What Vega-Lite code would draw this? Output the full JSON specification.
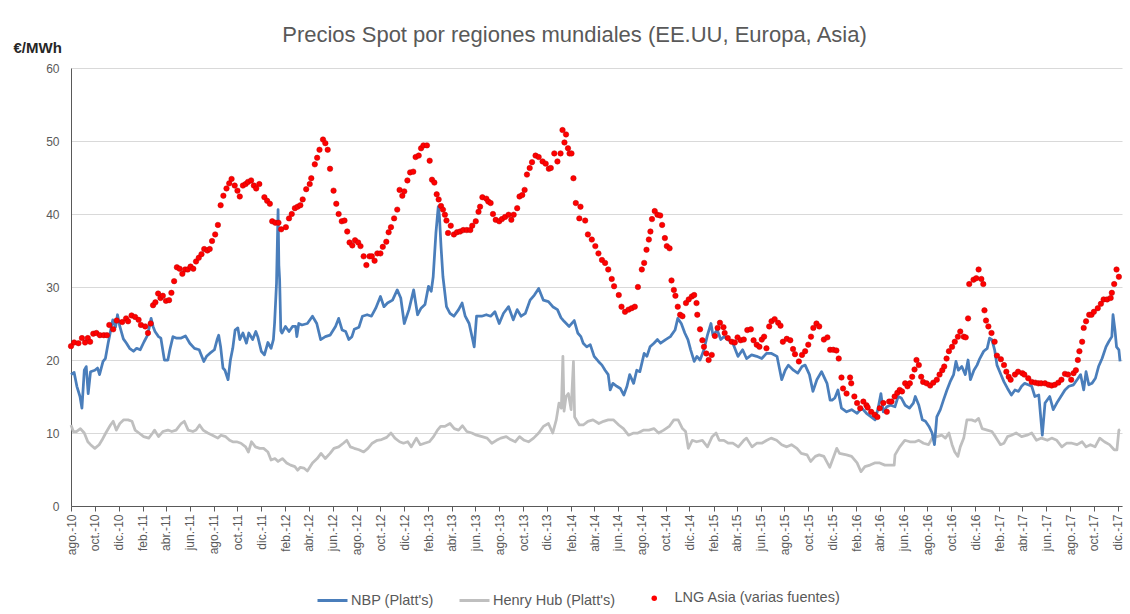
{
"$schema":"https://vega.github.io/schema/vega-lite/v6.json",
"width":1051,"height":438,
"autosize":"none",
"padding":{"left":71,"top":68,"right":8,"bottom":108},
"background":"white",
"config":{"font":"Liberation Sans","view":{"stroke":null}},
"title":{"text":"Precios Spot por regiones mundiales (EE.UU, Europa, Asia)","fontSize":22,"fontWeight":"normal","color":"#595959","font":"Liberation Sans","frame":"group","anchor":"middle","offset":20,"dx":-22,"dy":27},
"datasets":{
"nbp":[{"d":"2010-08-01","v":18.0},{"d":"2010-08-09","v":18.3},{"d":"2010-08-16","v":16.4},{"d":"2010-08-24","v":15.0},{"d":"2010-08-29","v":13.4},{"d":"2010-09-04","v":18.6},{"d":"2010-09-09","v":19.1},{"d":"2010-09-14","v":15.4},{"d":"2010-09-20","v":18.4},{"d":"2010-10-01","v":18.6},{"d":"2010-10-08","v":18.9},{"d":"2010-10-13","v":18.0},{"d":"2010-10-22","v":19.8},{"d":"2010-10-28","v":20.2},{"d":"2010-11-04","v":22.3},{"d":"2010-11-10","v":23.9},{"d":"2010-11-16","v":25.5},{"d":"2010-11-23","v":24.5},{"d":"2010-11-28","v":26.2},{"d":"2010-12-04","v":24.6},{"d":"2010-12-13","v":22.9},{"d":"2010-12-21","v":22.3},{"d":"2010-12-29","v":21.6},{"d":"2011-01-08","v":21.2},{"d":"2011-01-16","v":21.6},{"d":"2011-01-25","v":21.4},{"d":"2011-02-04","v":22.5},{"d":"2011-02-13","v":23.4},{"d":"2011-02-22","v":25.7},{"d":"2011-02-27","v":24.6},{"d":"2011-03-04","v":23.9},{"d":"2011-03-13","v":23.2},{"d":"2011-03-19","v":23.0},{"d":"2011-03-28","v":20.0},{"d":"2011-04-06","v":20.0},{"d":"2011-04-11","v":21.4},{"d":"2011-04-19","v":23.2},{"d":"2011-04-27","v":23.0},{"d":"2011-05-10","v":23.0},{"d":"2011-05-21","v":23.3},{"d":"2011-06-01","v":22.3},{"d":"2011-06-13","v":21.6},{"d":"2011-06-25","v":21.4},{"d":"2011-07-07","v":19.8},{"d":"2011-07-14","v":20.5},{"d":"2011-07-22","v":20.9},{"d":"2011-08-03","v":21.4},{"d":"2011-08-10","v":22.8},{"d":"2011-08-14","v":23.4},{"d":"2011-08-19","v":21.8},{"d":"2011-08-25","v":18.9},{"d":"2011-08-30","v":18.6},{"d":"2011-09-07","v":17.3},{"d":"2011-09-13","v":20.0},{"d":"2011-09-19","v":21.6},{"d":"2011-09-25","v":24.1},{"d":"2011-10-02","v":24.4},{"d":"2011-10-07","v":22.8},{"d":"2011-10-15","v":23.7},{"d":"2011-10-24","v":22.3},{"d":"2011-10-30","v":23.7},{"d":"2011-11-09","v":22.8},{"d":"2011-11-17","v":23.9},{"d":"2011-11-22","v":23.2},{"d":"2011-12-01","v":21.2},{"d":"2011-12-09","v":20.7},{"d":"2011-12-18","v":22.4},{"d":"2011-12-26","v":21.6},{"d":"2012-01-01","v":22.8},{"d":"2012-01-04","v":25.0},{"d":"2012-01-09","v":30.5},{"d":"2012-01-13","v":40.6},{"d":"2012-01-15","v":33.0},{"d":"2012-01-17","v":31.0},{"d":"2012-01-20","v":24.0},{"d":"2012-01-23","v":23.7},{"d":"2012-02-01","v":24.6},{"d":"2012-02-10","v":23.9},{"d":"2012-02-19","v":24.6},{"d":"2012-02-27","v":24.6},{"d":"2012-03-01","v":23.2},{"d":"2012-03-06","v":25.0},{"d":"2012-03-14","v":24.8},{"d":"2012-03-28","v":25.0},{"d":"2012-04-10","v":26.0},{"d":"2012-04-21","v":25.0},{"d":"2012-05-01","v":22.8},{"d":"2012-05-13","v":23.2},{"d":"2012-05-25","v":23.4},{"d":"2012-06-08","v":24.6},{"d":"2012-06-16","v":25.7},{"d":"2012-06-25","v":24.1},{"d":"2012-07-04","v":23.9},{"d":"2012-07-12","v":22.8},{"d":"2012-07-20","v":23.2},{"d":"2012-07-26","v":24.2},{"d":"2012-08-07","v":24.5},{"d":"2012-08-16","v":26.0},{"d":"2012-08-28","v":26.2},{"d":"2012-09-08","v":26.0},{"d":"2012-09-19","v":27.1},{"d":"2012-10-01","v":28.7},{"d":"2012-10-10","v":27.3},{"d":"2012-10-19","v":27.8},{"d":"2012-11-01","v":28.2},{"d":"2012-11-13","v":29.6},{"d":"2012-11-22","v":28.5},{"d":"2012-12-01","v":25.0},{"d":"2012-12-13","v":26.9},{"d":"2012-12-25","v":29.6},{"d":"2013-01-04","v":26.2},{"d":"2013-01-13","v":27.1},{"d":"2013-01-23","v":27.6},{"d":"2013-02-01","v":30.1},{"d":"2013-02-08","v":29.4},{"d":"2013-02-13","v":31.4},{"d":"2013-02-20","v":37.4},{"d":"2013-02-26","v":41.0},{"d":"2013-03-01","v":39.7},{"d":"2013-03-05","v":35.6},{"d":"2013-03-10","v":31.4},{"d":"2013-03-19","v":27.3},{"d":"2013-03-28","v":26.4},{"d":"2013-04-07","v":26.0},{"d":"2013-04-19","v":26.9},{"d":"2013-04-28","v":27.8},{"d":"2013-05-06","v":26.0},{"d":"2013-05-16","v":25.0},{"d":"2013-05-25","v":22.8},{"d":"2013-05-29","v":21.8},{"d":"2013-06-04","v":26.0},{"d":"2013-06-17","v":26.0},{"d":"2013-06-29","v":26.2},{"d":"2013-07-10","v":26.0},{"d":"2013-07-21","v":26.6},{"d":"2013-08-01","v":25.0},{"d":"2013-08-12","v":26.4},{"d":"2013-08-25","v":27.3},{"d":"2013-09-06","v":25.5},{"d":"2013-09-16","v":26.9},{"d":"2013-09-26","v":26.0},{"d":"2013-10-07","v":26.4},{"d":"2013-10-19","v":28.2},{"d":"2013-10-30","v":28.9},{"d":"2013-11-10","v":29.8},{"d":"2013-11-22","v":28.2},{"d":"2013-12-05","v":28.0},{"d":"2013-12-16","v":27.3},{"d":"2013-12-28","v":26.9},{"d":"2014-01-06","v":25.8},{"d":"2014-01-14","v":25.3},{"d":"2014-01-27","v":24.6},{"d":"2014-02-09","v":25.4},{"d":"2014-02-18","v":23.7},{"d":"2014-02-26","v":23.2},{"d":"2014-03-04","v":22.3},{"d":"2014-03-13","v":21.8},{"d":"2014-03-22","v":22.1},{"d":"2014-04-01","v":20.5},{"d":"2014-04-12","v":19.8},{"d":"2014-04-21","v":19.3},{"d":"2014-04-29","v":18.6},{"d":"2014-05-07","v":18.0},{"d":"2014-05-12","v":15.9},{"d":"2014-05-19","v":16.8},{"d":"2014-05-29","v":16.4},{"d":"2014-06-07","v":16.1},{"d":"2014-06-16","v":15.2},{"d":"2014-06-24","v":16.4},{"d":"2014-07-01","v":18.0},{"d":"2014-07-11","v":16.8},{"d":"2014-07-19","v":18.6},{"d":"2014-07-27","v":18.4},{"d":"2014-08-07","v":20.9},{"d":"2014-08-14","v":20.5},{"d":"2014-08-22","v":21.8},{"d":"2014-09-01","v":22.3},{"d":"2014-09-10","v":22.8},{"d":"2014-09-18","v":22.3},{"d":"2014-10-01","v":22.8},{"d":"2014-10-13","v":23.2},{"d":"2014-10-25","v":24.1},{"d":"2014-11-01","v":25.7},{"d":"2014-11-10","v":25.0},{"d":"2014-11-19","v":23.7},{"d":"2014-11-27","v":22.8},{"d":"2014-12-04","v":21.4},{"d":"2014-12-13","v":19.8},{"d":"2014-12-20","v":20.5},{"d":"2014-12-28","v":20.0},{"d":"2015-01-07","v":21.4},{"d":"2015-01-16","v":23.4},{"d":"2015-01-25","v":25.0},{"d":"2015-01-30","v":23.4},{"d":"2015-02-10","v":24.1},{"d":"2015-02-19","v":22.8},{"d":"2015-02-27","v":23.2},{"d":"2015-03-10","v":22.8},{"d":"2015-03-22","v":22.3},{"d":"2015-04-04","v":20.5},{"d":"2015-04-16","v":21.4},{"d":"2015-04-26","v":20.2},{"d":"2015-05-09","v":20.7},{"d":"2015-05-22","v":20.5},{"d":"2015-06-04","v":20.2},{"d":"2015-06-16","v":20.9},{"d":"2015-06-29","v":20.9},{"d":"2015-07-13","v":20.5},{"d":"2015-07-25","v":17.3},{"d":"2015-08-03","v":18.6},{"d":"2015-08-11","v":19.3},{"d":"2015-08-24","v":18.6},{"d":"2015-09-04","v":18.2},{"d":"2015-09-15","v":19.1},{"d":"2015-09-23","v":19.3},{"d":"2015-10-04","v":18.0},{"d":"2015-10-13","v":15.7},{"d":"2015-10-23","v":17.3},{"d":"2015-11-04","v":18.4},{"d":"2015-11-18","v":16.8},{"d":"2015-11-26","v":14.5},{"d":"2015-12-01","v":14.5},{"d":"2015-12-08","v":14.8},{"d":"2015-12-16","v":15.9},{"d":"2015-12-25","v":13.4},{"d":"2016-01-07","v":12.9},{"d":"2016-01-20","v":13.2},{"d":"2016-02-03","v":12.7},{"d":"2016-02-15","v":13.4},{"d":"2016-02-27","v":12.7},{"d":"2016-03-10","v":12.2},{"d":"2016-03-20","v":11.8},{"d":"2016-03-27","v":13.2},{"d":"2016-04-04","v":15.4},{"d":"2016-04-10","v":12.9},{"d":"2016-04-19","v":13.6},{"d":"2016-04-29","v":13.8},{"d":"2016-05-10","v":13.6},{"d":"2016-05-18","v":15.0},{"d":"2016-05-26","v":14.8},{"d":"2016-06-05","v":13.8},{"d":"2016-06-16","v":13.4},{"d":"2016-06-26","v":14.1},{"d":"2016-07-01","v":15.0},{"d":"2016-07-10","v":13.8},{"d":"2016-07-19","v":11.8},{"d":"2016-07-27","v":11.6},{"d":"2016-08-05","v":10.9},{"d":"2016-08-13","v":10.0},{"d":"2016-08-19","v":8.4},{"d":"2016-08-25","v":12.2},{"d":"2016-09-03","v":13.2},{"d":"2016-09-11","v":14.5},{"d":"2016-09-20","v":15.9},{"d":"2016-09-28","v":17.0},{"d":"2016-10-07","v":18.0},{"d":"2016-10-13","v":19.8},{"d":"2016-10-19","v":18.6},{"d":"2016-10-28","v":19.1},{"d":"2016-11-06","v":18.0},{"d":"2016-11-13","v":20.0},{"d":"2016-11-19","v":17.3},{"d":"2016-11-28","v":18.6},{"d":"2016-12-06","v":19.3},{"d":"2016-12-13","v":20.2},{"d":"2016-12-23","v":21.2},{"d":"2017-01-01","v":21.6},{"d":"2017-01-07","v":23.0},{"d":"2017-01-13","v":22.8},{"d":"2017-01-20","v":21.4},{"d":"2017-01-26","v":19.3},{"d":"2017-02-05","v":18.0},{"d":"2017-02-13","v":17.0},{"d":"2017-02-22","v":16.1},{"d":"2017-03-04","v":15.2},{"d":"2017-03-13","v":15.9},{"d":"2017-03-22","v":15.7},{"d":"2017-03-30","v":16.4},{"d":"2017-04-07","v":16.8},{"d":"2017-04-16","v":16.6},{"d":"2017-04-25","v":16.4},{"d":"2017-05-03","v":15.0},{"d":"2017-05-13","v":15.2},{"d":"2017-05-22","v":9.7},{"d":"2017-05-29","v":14.1},{"d":"2017-06-10","v":15.0},{"d":"2017-06-19","v":13.2},{"d":"2017-06-28","v":14.1},{"d":"2017-07-11","v":15.2},{"d":"2017-07-19","v":15.9},{"d":"2017-07-29","v":16.4},{"d":"2017-08-10","v":16.6},{"d":"2017-08-19","v":17.3},{"d":"2017-08-28","v":18.0},{"d":"2017-09-05","v":15.9},{"d":"2017-09-11","v":18.4},{"d":"2017-09-18","v":16.6},{"d":"2017-09-26","v":16.8},{"d":"2017-10-05","v":17.5},{"d":"2017-10-13","v":19.1},{"d":"2017-10-22","v":20.2},{"d":"2017-11-01","v":21.8},{"d":"2017-11-08","v":22.5},{"d":"2017-11-16","v":23.2},{"d":"2017-11-19","v":26.2},{"d":"2017-11-24","v":24.1},{"d":"2017-11-28","v":21.8},{"d":"2017-12-04","v":21.4},{"d":"2017-12-07","v":19.8}],
"hh":[{"d":"2010-08-01","v":11.1},{"d":"2010-08-07","v":10.2},{"d":"2010-08-15","v":10.2},{"d":"2010-08-25","v":10.6},{"d":"2010-09-04","v":10.0},{"d":"2010-09-13","v":8.8},{"d":"2010-09-20","v":8.4},{"d":"2010-10-01","v":7.9},{"d":"2010-10-12","v":8.4},{"d":"2010-10-19","v":9.0},{"d":"2010-10-29","v":10.0},{"d":"2010-11-10","v":11.1},{"d":"2010-11-17","v":11.6},{"d":"2010-11-25","v":10.4},{"d":"2010-12-04","v":11.3},{"d":"2010-12-14","v":11.8},{"d":"2010-12-25","v":11.8},{"d":"2011-01-04","v":11.6},{"d":"2011-01-12","v":10.4},{"d":"2011-01-22","v":10.0},{"d":"2011-02-03","v":9.5},{"d":"2011-02-16","v":9.3},{"d":"2011-02-26","v":10.0},{"d":"2011-03-03","v":10.4},{"d":"2011-03-13","v":9.5},{"d":"2011-03-24","v":10.2},{"d":"2011-04-06","v":10.4},{"d":"2011-04-16","v":10.2},{"d":"2011-04-27","v":10.4},{"d":"2011-05-10","v":11.3},{"d":"2011-05-18","v":11.6},{"d":"2011-05-28","v":10.4},{"d":"2011-06-09","v":10.2},{"d":"2011-06-17","v":10.4},{"d":"2011-06-26","v":11.1},{"d":"2011-07-05","v":10.4},{"d":"2011-07-17","v":10.0},{"d":"2011-07-29","v":9.7},{"d":"2011-08-12","v":9.3},{"d":"2011-08-20","v":9.7},{"d":"2011-09-01","v":9.5},{"d":"2011-09-11","v":9.0},{"d":"2011-09-19","v":8.8},{"d":"2011-09-29","v":8.8},{"d":"2011-10-10","v":8.6},{"d":"2011-10-22","v":8.1},{"d":"2011-10-29","v":7.4},{"d":"2011-11-06","v":8.8},{"d":"2011-11-16","v":8.1},{"d":"2011-11-27","v":7.9},{"d":"2011-12-07","v":7.9},{"d":"2011-12-18","v":7.4},{"d":"2011-12-26","v":6.3},{"d":"2012-01-05","v":6.5},{"d":"2012-01-13","v":6.1},{"d":"2012-01-24","v":6.5},{"d":"2012-02-04","v":5.9},{"d":"2012-02-14","v":5.6},{"d":"2012-02-25","v":5.4},{"d":"2012-03-03","v":4.9},{"d":"2012-03-10","v":5.3},{"d":"2012-03-19","v":5.2},{"d":"2012-03-28","v":4.8},{"d":"2012-04-10","v":5.9},{"d":"2012-04-22","v":6.5},{"d":"2012-05-02","v":7.2},{"d":"2012-05-13","v":6.5},{"d":"2012-05-25","v":7.2},{"d":"2012-06-04","v":7.9},{"d":"2012-06-16","v":8.1},{"d":"2012-06-28","v":8.6},{"d":"2012-07-07","v":9.0},{"d":"2012-07-16","v":8.1},{"d":"2012-07-26","v":7.9},{"d":"2012-08-07","v":7.7},{"d":"2012-08-19","v":7.4},{"d":"2012-08-30","v":7.9},{"d":"2012-09-10","v":8.6},{"d":"2012-09-23","v":9.0},{"d":"2012-10-04","v":9.1},{"d":"2012-10-17","v":9.4},{"d":"2012-10-28","v":10.0},{"d":"2012-11-07","v":9.3},{"d":"2012-11-19","v":8.8},{"d":"2012-11-29","v":8.6},{"d":"2012-12-10","v":8.8},{"d":"2012-12-19","v":8.1},{"d":"2013-01-01","v":9.3},{"d":"2013-01-11","v":8.4},{"d":"2013-01-22","v":8.6},{"d":"2013-02-03","v":8.8},{"d":"2013-02-14","v":9.5},{"d":"2013-02-24","v":10.4},{"d":"2013-03-04","v":10.9},{"d":"2013-03-15","v":10.9},{"d":"2013-03-28","v":11.3},{"d":"2013-04-08","v":10.6},{"d":"2013-04-19","v":10.4},{"d":"2013-04-29","v":11.0},{"d":"2013-05-10","v":10.2},{"d":"2013-05-23","v":10.0},{"d":"2013-06-04","v":9.7},{"d":"2013-06-18","v":9.5},{"d":"2013-07-01","v":9.3},{"d":"2013-07-13","v":8.6},{"d":"2013-07-25","v":9.0},{"d":"2013-08-05","v":9.3},{"d":"2013-08-19","v":9.5},{"d":"2013-08-30","v":9.1},{"d":"2013-09-11","v":8.8},{"d":"2013-09-22","v":9.5},{"d":"2013-10-04","v":9.0},{"d":"2013-10-15","v":8.8},{"d":"2013-10-28","v":9.3},{"d":"2013-11-10","v":10.0},{"d":"2013-11-22","v":10.9},{"d":"2013-12-05","v":11.3},{"d":"2013-12-16","v":10.0},{"d":"2013-12-25","v":11.8},{"d":"2014-01-01","v":14.1},{"d":"2014-01-07","v":13.4},{"d":"2014-01-11","v":20.5},{"d":"2014-01-14","v":13.0},{"d":"2014-01-19","v":15.0},{"d":"2014-01-25","v":15.4},{"d":"2014-02-01","v":13.2},{"d":"2014-02-07","v":19.8},{"d":"2014-02-10","v":12.2},{"d":"2014-02-22","v":11.1},{"d":"2014-03-04","v":11.1},{"d":"2014-03-16","v":11.6},{"d":"2014-03-29","v":11.8},{"d":"2014-04-13","v":11.3},{"d":"2014-04-25","v":11.6},{"d":"2014-05-07","v":11.8},{"d":"2014-05-20","v":11.8},{"d":"2014-06-03","v":11.1},{"d":"2014-06-15","v":10.6},{"d":"2014-06-28","v":9.7},{"d":"2014-07-11","v":10.0},{"d":"2014-07-22","v":10.0},{"d":"2014-08-06","v":10.4},{"d":"2014-08-19","v":10.4},{"d":"2014-09-01","v":10.6},{"d":"2014-09-13","v":10.0},{"d":"2014-09-26","v":10.4},{"d":"2014-10-10","v":10.9},{"d":"2014-10-22","v":11.8},{"d":"2014-11-02","v":11.8},{"d":"2014-11-13","v":10.6},{"d":"2014-11-21","v":10.2},{"d":"2014-11-28","v":7.9},{"d":"2014-12-08","v":9.0},{"d":"2014-12-19","v":8.8},{"d":"2015-01-03","v":9.0},{"d":"2015-01-16","v":8.1},{"d":"2015-01-28","v":9.5},{"d":"2015-02-07","v":10.0},{"d":"2015-02-15","v":9.0},{"d":"2015-02-27","v":9.0},{"d":"2015-03-10","v":8.6},{"d":"2015-03-22","v":8.6},{"d":"2015-04-05","v":8.1},{"d":"2015-04-19","v":9.0},{"d":"2015-04-26","v":9.3},{"d":"2015-05-10","v":8.1},{"d":"2015-05-22","v":8.6},{"d":"2015-06-04","v":8.6},{"d":"2015-06-17","v":9.0},{"d":"2015-06-28","v":9.3},{"d":"2015-07-12","v":9.0},{"d":"2015-07-25","v":8.4},{"d":"2015-08-07","v":8.1},{"d":"2015-08-19","v":8.4},{"d":"2015-09-02","v":7.9},{"d":"2015-09-13","v":7.2},{"d":"2015-09-28","v":7.0},{"d":"2015-10-07","v":6.1},{"d":"2015-10-19","v":6.8},{"d":"2015-10-29","v":7.0},{"d":"2015-11-10","v":6.8},{"d":"2015-11-25","v":5.3},{"d":"2015-12-13","v":7.9},{"d":"2015-12-20","v":7.2},{"d":"2016-01-07","v":7.0},{"d":"2016-01-20","v":6.8},{"d":"2016-02-03","v":5.9},{"d":"2016-02-13","v":4.7},{"d":"2016-02-23","v":5.4},{"d":"2016-03-07","v":5.6},{"d":"2016-03-19","v":5.9},{"d":"2016-04-01","v":5.9},{"d":"2016-04-14","v":5.6},{"d":"2016-04-28","v":5.6},{"d":"2016-05-08","v":5.6},{"d":"2016-05-10","v":7.0},{"d":"2016-05-22","v":8.1},{"d":"2016-06-04","v":9.0},{"d":"2016-06-17","v":8.8},{"d":"2016-07-01","v":8.8},{"d":"2016-07-10","v":9.0},{"d":"2016-07-22","v":8.6},{"d":"2016-08-04","v":8.4},{"d":"2016-08-13","v":9.3},{"d":"2016-08-25","v":9.5},{"d":"2016-09-07","v":9.7},{"d":"2016-09-16","v":9.3},{"d":"2016-09-25","v":10.0},{"d":"2016-10-03","v":8.4},{"d":"2016-10-10","v":7.4},{"d":"2016-10-18","v":6.8},{"d":"2016-10-24","v":8.1},{"d":"2016-11-02","v":9.3},{"d":"2016-11-10","v":11.8},{"d":"2016-11-22","v":11.8},{"d":"2016-12-01","v":11.6},{"d":"2016-12-10","v":12.0},{"d":"2016-12-19","v":10.6},{"d":"2017-01-01","v":10.4},{"d":"2017-01-13","v":10.2},{"d":"2017-01-22","v":9.5},{"d":"2017-02-04","v":8.4},{"d":"2017-02-13","v":8.6},{"d":"2017-02-22","v":9.5},{"d":"2017-03-04","v":9.7},{"d":"2017-03-16","v":10.0},{"d":"2017-03-30","v":9.5},{"d":"2017-04-13","v":9.7},{"d":"2017-04-25","v":10.0},{"d":"2017-05-07","v":9.0},{"d":"2017-05-20","v":9.3},{"d":"2017-06-04","v":9.0},{"d":"2017-06-15","v":9.3},{"d":"2017-06-28","v":9.0},{"d":"2017-07-11","v":8.1},{"d":"2017-07-23","v":8.6},{"d":"2017-08-06","v":8.6},{"d":"2017-08-19","v":8.4},{"d":"2017-09-01","v":8.8},{"d":"2017-09-11","v":8.1},{"d":"2017-09-22","v":8.4},{"d":"2017-10-04","v":8.1},{"d":"2017-10-16","v":9.3},{"d":"2017-10-28","v":8.8},{"d":"2017-11-10","v":8.4},{"d":"2017-11-22","v":7.7},{"d":"2017-11-29","v":7.7},{"d":"2017-12-04","v":10.4},{"d":"2017-12-07","v":10.5}],
"lng":[{"d":"2010-08-01","v":21.9},{"d":"2010-08-09","v":22.4},{"d":"2010-08-20","v":22.3},{"d":"2010-08-29","v":23.0},{"d":"2010-09-06","v":22.4},{"d":"2010-09-13","v":23.0},{"d":"2010-09-19","v":22.5},{"d":"2010-09-27","v":23.6},{"d":"2010-10-05","v":23.7},{"d":"2010-10-14","v":23.4},{"d":"2010-10-24","v":23.4},{"d":"2010-11-01","v":23.4},{"d":"2010-11-07","v":24.8},{"d":"2010-11-17","v":24.2},{"d":"2010-11-26","v":25.4},{"d":"2010-12-10","v":25.2},{"d":"2010-12-20","v":25.7},{"d":"2010-12-25","v":25.3},{"d":"2011-01-03","v":26.1},{"d":"2011-01-12","v":25.9},{"d":"2011-01-21","v":25.5},{"d":"2011-01-27","v":24.8},{"d":"2011-02-07","v":24.6},{"d":"2011-02-14","v":23.7},{"d":"2011-02-21","v":25.0},{"d":"2011-02-27","v":27.5},{"d":"2011-03-05","v":27.9},{"d":"2011-03-12","v":29.1},{"d":"2011-03-18","v":28.5},{"d":"2011-03-24","v":28.8},{"d":"2011-04-01","v":28.1},{"d":"2011-04-09","v":28.2},{"d":"2011-04-15","v":29.2},{"d":"2011-04-22","v":30.8},{"d":"2011-04-29","v":32.7},{"d":"2011-05-06","v":32.5},{"d":"2011-05-13","v":31.8},{"d":"2011-05-20","v":32.4},{"d":"2011-05-27","v":32.4},{"d":"2011-06-03","v":32.8},{"d":"2011-06-10","v":32.5},{"d":"2011-06-17","v":33.5},{"d":"2011-06-24","v":34.0},{"d":"2011-07-01","v":34.5},{"d":"2011-07-08","v":35.2},{"d":"2011-07-16","v":35.0},{"d":"2011-07-22","v":35.2},{"d":"2011-07-28","v":36.3},{"d":"2011-08-05","v":37.2},{"d":"2011-08-12","v":38.5},{"d":"2011-08-19","v":41.2},{"d":"2011-08-26","v":42.5},{"d":"2011-09-03","v":43.5},{"d":"2011-09-10","v":44.2},{"d":"2011-09-16","v":44.8},{"d":"2011-09-24","v":43.9},{"d":"2011-10-01","v":43.2},{"d":"2011-10-07","v":42.4},{"d":"2011-10-15","v":43.9},{"d":"2011-10-22","v":44.1},{"d":"2011-10-28","v":44.4},{"d":"2011-11-05","v":44.6},{"d":"2011-11-12","v":43.9},{"d":"2011-11-18","v":43.5},{"d":"2011-11-26","v":44.1},{"d":"2011-12-09","v":42.3},{"d":"2011-12-16","v":41.8},{"d":"2011-12-23","v":41.4},{"d":"2011-12-29","v":39.0},{"d":"2012-01-06","v":38.8},{"d":"2012-01-14","v":38.8},{"d":"2012-01-21","v":37.9},{"d":"2012-02-02","v":38.2},{"d":"2012-02-10","v":39.4},{"d":"2012-02-17","v":40.0},{"d":"2012-02-25","v":40.8},{"d":"2012-03-03","v":41.0},{"d":"2012-03-10","v":41.2},{"d":"2012-03-16","v":42.0},{"d":"2012-03-25","v":43.4},{"d":"2012-04-03","v":44.1},{"d":"2012-04-07","v":44.9},{"d":"2012-04-16","v":46.8},{"d":"2012-04-22","v":47.7},{"d":"2012-04-28","v":48.8},{"d":"2012-05-07","v":50.2},{"d":"2012-05-13","v":49.7},{"d":"2012-05-19","v":48.8},{"d":"2012-05-25","v":46.2},{"d":"2012-06-03","v":43.2},{"d":"2012-06-10","v":41.4},{"d":"2012-06-16","v":40.0},{"d":"2012-06-24","v":39.0},{"d":"2012-07-01","v":39.1},{"d":"2012-07-08","v":37.6},{"d":"2012-07-14","v":36.1},{"d":"2012-07-21","v":35.7},{"d":"2012-07-28","v":36.4},{"d":"2012-08-05","v":36.1},{"d":"2012-08-11","v":35.6},{"d":"2012-08-19","v":34.2},{"d":"2012-08-26","v":33.0},{"d":"2012-09-03","v":34.2},{"d":"2012-09-09","v":34.2},{"d":"2012-09-16","v":33.6},{"d":"2012-09-23","v":34.6},{"d":"2012-10-01","v":34.6},{"d":"2012-10-07","v":35.5},{"d":"2012-10-16","v":36.2},{"d":"2012-10-22","v":37.5},{"d":"2012-10-28","v":38.2},{"d":"2012-11-05","v":39.4},{"d":"2012-11-13","v":40.6},{"d":"2012-11-19","v":43.3},{"d":"2012-11-26","v":42.5},{"d":"2012-12-01","v":43.1},{"d":"2012-12-09","v":44.6},{"d":"2012-12-16","v":45.7},{"d":"2012-12-24","v":45.8},{"d":"2012-12-30","v":47.8},{"d":"2013-01-07","v":48.0},{"d":"2013-01-13","v":49.0},{"d":"2013-01-19","v":49.4},{"d":"2013-01-28","v":49.4},{"d":"2013-02-04","v":47.3},{"d":"2013-02-10","v":44.7},{"d":"2013-02-16","v":44.3},{"d":"2013-02-22","v":42.7},{"d":"2013-02-27","v":42.0},{"d":"2013-03-05","v":41.1},{"d":"2013-03-10","v":40.6},{"d":"2013-03-15","v":39.9},{"d":"2013-03-19","v":39.1},{"d":"2013-03-23","v":37.4},{"d":"2013-03-30","v":38.4},{"d":"2013-04-07","v":37.2},{"d":"2013-04-15","v":37.5},{"d":"2013-04-23","v":37.6},{"d":"2013-05-01","v":37.8},{"d":"2013-05-10","v":37.8},{"d":"2013-05-19","v":37.8},{"d":"2013-05-24","v":38.4},{"d":"2013-06-02","v":39.0},{"d":"2013-06-09","v":40.3},{"d":"2013-06-13","v":41.0},{"d":"2013-06-19","v":42.3},{"d":"2013-06-29","v":42.1},{"d":"2013-07-04","v":41.7},{"d":"2013-07-10","v":41.5},{"d":"2013-07-16","v":40.0},{"d":"2013-07-23","v":39.2},{"d":"2013-08-01","v":39.0},{"d":"2013-08-08","v":39.3},{"d":"2013-08-16","v":39.6},{"d":"2013-08-25","v":39.9},{"d":"2013-09-01","v":39.2},{"d":"2013-09-07","v":39.9},{"d":"2013-09-16","v":40.8},{"d":"2013-09-22","v":42.4},{"d":"2013-09-29","v":42.6},{"d":"2013-10-05","v":43.3},{"d":"2013-10-11","v":45.4},{"d":"2013-10-18","v":46.3},{"d":"2013-10-24","v":47.1},{"d":"2013-11-02","v":48.0},{"d":"2013-11-10","v":47.8},{"d":"2013-11-20","v":47.2},{"d":"2013-11-28","v":46.9},{"d":"2013-12-06","v":46.2},{"d":"2013-12-11","v":46.3},{"d":"2013-12-20","v":48.3},{"d":"2013-12-28","v":47.2},{"d":"2014-01-05","v":48.3},{"d":"2014-01-10","v":51.5},{"d":"2014-01-15","v":49.8},{"d":"2014-01-19","v":50.9},{"d":"2014-01-24","v":49.0},{"d":"2014-01-28","v":48.3},{"d":"2014-02-02","v":48.3},{"d":"2014-02-07","v":44.9},{"d":"2014-02-13","v":41.5},{"d":"2014-02-22","v":39.4},{"d":"2014-02-25","v":41.0},{"d":"2014-03-09","v":39.1},{"d":"2014-03-16","v":37.2},{"d":"2014-03-26","v":36.5},{"d":"2014-04-04","v":35.6},{"d":"2014-04-12","v":34.6},{"d":"2014-04-21","v":33.7},{"d":"2014-04-29","v":33.3},{"d":"2014-05-07","v":32.4},{"d":"2014-05-16","v":31.1},{"d":"2014-05-22","v":30.1},{"d":"2014-06-03","v":28.9},{"d":"2014-06-10","v":27.3},{"d":"2014-06-19","v":26.6},{"d":"2014-06-28","v":26.9},{"d":"2014-07-06","v":27.1},{"d":"2014-07-14","v":27.3},{"d":"2014-07-22","v":30.0},{"d":"2014-08-01","v":32.4},{"d":"2014-08-07","v":33.3},{"d":"2014-08-13","v":35.1},{"d":"2014-08-19","v":36.5},{"d":"2014-08-23","v":37.6},{"d":"2014-08-27","v":39.3},{"d":"2014-09-03","v":40.4},{"d":"2014-09-10","v":39.9},{"d":"2014-09-17","v":39.8},{"d":"2014-09-22","v":38.5},{"d":"2014-09-29","v":36.7},{"d":"2014-10-04","v":35.6},{"d":"2014-10-11","v":35.3},{"d":"2014-10-16","v":30.9},{"d":"2014-10-22","v":29.6},{"d":"2014-10-26","v":28.8},{"d":"2014-11-01","v":27.3},{"d":"2014-11-07","v":26.2},{"d":"2014-11-13","v":26.0},{"d":"2014-11-22","v":27.8},{"d":"2014-11-29","v":28.3},{"d":"2014-12-07","v":28.7},{"d":"2014-12-13","v":28.9},{"d":"2014-12-19","v":27.8},{"d":"2014-12-21","v":26.2},{"d":"2014-12-28","v":24.2},{"d":"2015-01-03","v":22.7},{"d":"2015-01-07","v":21.8},{"d":"2015-01-13","v":20.9},{"d":"2015-01-19","v":20.0},{"d":"2015-01-27","v":20.7},{"d":"2015-02-04","v":23.3},{"d":"2015-02-11","v":24.4},{"d":"2015-02-17","v":25.1},{"d":"2015-02-26","v":24.5},{"d":"2015-03-01","v":23.7},{"d":"2015-03-09","v":23.0},{"d":"2015-03-19","v":22.5},{"d":"2015-03-27","v":22.4},{"d":"2015-04-03","v":23.1},{"d":"2015-04-11","v":22.7},{"d":"2015-04-19","v":22.8},{"d":"2015-04-28","v":24.1},{"d":"2015-05-07","v":24.2},{"d":"2015-05-14","v":22.7},{"d":"2015-05-22","v":22.1},{"d":"2015-05-29","v":21.8},{"d":"2015-06-04","v":22.8},{"d":"2015-06-10","v":23.2},{"d":"2015-06-16","v":21.6},{"d":"2015-06-23","v":24.6},{"d":"2015-06-29","v":25.3},{"d":"2015-07-07","v":25.6},{"d":"2015-07-16","v":25.1},{"d":"2015-07-22","v":24.7},{"d":"2015-07-28","v":22.5},{"d":"2015-08-07","v":22.9},{"d":"2015-08-16","v":22.7},{"d":"2015-08-23","v":21.5},{"d":"2015-08-28","v":20.8},{"d":"2015-09-07","v":19.8},{"d":"2015-09-15","v":20.7},{"d":"2015-09-23","v":21.2},{"d":"2015-10-01","v":22.1},{"d":"2015-10-08","v":23.2},{"d":"2015-10-14","v":24.4},{"d":"2015-10-22","v":25.0},{"d":"2015-10-29","v":24.6},{"d":"2015-11-10","v":22.8},{"d":"2015-11-19","v":23.1},{"d":"2015-11-26","v":21.4},{"d":"2015-12-04","v":21.4},{"d":"2015-12-12","v":21.3},{"d":"2015-12-18","v":20.2},{"d":"2015-12-25","v":17.6},{"d":"2015-12-29","v":16.1},{"d":"2016-01-07","v":15.4},{"d":"2016-01-16","v":17.6},{"d":"2016-01-19","v":16.8},{"d":"2016-01-27","v":15.0},{"d":"2016-02-03","v":14.1},{"d":"2016-02-11","v":13.4},{"d":"2016-02-19","v":14.3},{"d":"2016-02-27","v":13.8},{"d":"2016-03-01","v":13.5},{"d":"2016-03-10","v":12.9},{"d":"2016-03-19","v":12.5},{"d":"2016-03-26","v":12.2},{"d":"2016-04-01","v":13.4},{"d":"2016-04-10","v":14.1},{"d":"2016-04-19","v":12.9},{"d":"2016-04-25","v":14.3},{"d":"2016-05-01","v":14.3},{"d":"2016-05-09","v":15.0},{"d":"2016-05-16","v":15.5},{"d":"2016-05-22","v":15.9},{"d":"2016-05-28","v":15.7},{"d":"2016-06-05","v":16.8},{"d":"2016-06-11","v":16.4},{"d":"2016-06-17","v":16.8},{"d":"2016-06-23","v":17.7},{"d":"2016-06-29","v":18.7},{"d":"2016-07-04","v":20.0},{"d":"2016-07-10","v":19.3},{"d":"2016-07-16","v":17.7},{"d":"2016-07-21","v":17.0},{"d":"2016-07-30","v":16.8},{"d":"2016-08-08","v":16.5},{"d":"2016-08-16","v":16.9},{"d":"2016-08-25","v":17.3},{"d":"2016-09-01","v":18.0},{"d":"2016-09-08","v":18.6},{"d":"2016-09-13","v":19.1},{"d":"2016-09-19","v":20.2},{"d":"2016-09-25","v":21.2},{"d":"2016-10-03","v":21.8},{"d":"2016-10-10","v":22.5},{"d":"2016-10-18","v":23.2},{"d":"2016-10-24","v":23.9},{"d":"2016-11-02","v":23.2},{"d":"2016-11-07","v":23.1},{"d":"2016-11-13","v":25.7},{"d":"2016-11-16","v":30.4},{"d":"2016-11-27","v":31.0},{"d":"2016-12-04","v":31.2},{"d":"2016-12-10","v":32.4},{"d":"2016-12-17","v":31.1},{"d":"2016-12-22","v":30.4},{"d":"2016-12-25","v":26.8},{"d":"2016-12-29","v":25.4},{"d":"2017-01-04","v":24.6},{"d":"2017-01-12","v":23.7},{"d":"2017-01-20","v":22.5},{"d":"2017-01-26","v":20.6},{"d":"2017-02-05","v":20.1},{"d":"2017-02-13","v":19.3},{"d":"2017-02-19","v":18.4},{"d":"2017-02-25","v":17.7},{"d":"2017-03-02","v":17.3},{"d":"2017-03-13","v":18.0},{"d":"2017-03-21","v":18.4},{"d":"2017-04-01","v":18.2},{"d":"2017-04-06","v":18.0},{"d":"2017-04-16","v":17.5},{"d":"2017-04-25","v":17.0},{"d":"2017-05-04","v":16.9},{"d":"2017-05-12","v":16.8},{"d":"2017-05-19","v":16.8},{"d":"2017-05-29","v":16.8},{"d":"2017-06-07","v":16.6},{"d":"2017-06-15","v":16.5},{"d":"2017-06-23","v":16.6},{"d":"2017-07-02","v":16.9},{"d":"2017-07-10","v":17.3},{"d":"2017-07-19","v":18.1},{"d":"2017-07-27","v":18.0},{"d":"2017-08-04","v":17.3},{"d":"2017-08-10","v":18.2},{"d":"2017-08-16","v":18.6},{"d":"2017-08-21","v":20.0},{"d":"2017-08-25","v":21.2},{"d":"2017-09-01","v":22.5},{"d":"2017-09-05","v":24.4},{"d":"2017-09-11","v":25.3},{"d":"2017-09-19","v":26.2},{"d":"2017-09-25","v":26.2},{"d":"2017-10-01","v":26.6},{"d":"2017-10-11","v":27.1},{"d":"2017-10-19","v":27.7},{"d":"2017-10-26","v":28.3},{"d":"2017-11-04","v":28.3},{"d":"2017-11-13","v":28.5},{"d":"2017-11-16","v":29.2},{"d":"2017-11-22","v":30.4},{"d":"2017-11-28","v":32.4},{"d":"2017-12-04","v":31.4}]
},
"encoding":{
"x":{"field":"d","type":"temporal","scale":{"type":"utc","domain":[{"year":2010,"month":8,"date":1,"utc":true},{"year":2017,"month":12,"date":12,"utc":true}]},
"axis":{"title":null,"grid":false,"labelExpr":"['ene.','feb.','mar.','abr.','may.','jun.','jul.','ago.','sept.','oct.','nov.','dic.'][utcmonth(datum.value)] + '-' + utcFormat(datum.value, '%y')","labelAngle":270,"labelAlign":"right","labelBaseline":"middle","labelFontSize":12,"labelFont":"Liberation Sans","labelColor":"#595959","labelPadding":3,"labelOverlap":false,"labelFlush":false,"tickSize":5,"tickColor":"#595959","domainColor":"#595959",
"values":[{"year":2010,"month":8,"date":1,"utc":true},{"year":2010,"month":10,"date":1,"utc":true},{"year":2010,"month":12,"date":1,"utc":true},{"year":2011,"month":2,"date":1,"utc":true},{"year":2011,"month":4,"date":1,"utc":true},{"year":2011,"month":6,"date":1,"utc":true},{"year":2011,"month":8,"date":1,"utc":true},{"year":2011,"month":10,"date":1,"utc":true},{"year":2011,"month":12,"date":1,"utc":true},{"year":2012,"month":2,"date":1,"utc":true},{"year":2012,"month":4,"date":1,"utc":true},{"year":2012,"month":6,"date":1,"utc":true},{"year":2012,"month":8,"date":1,"utc":true},{"year":2012,"month":10,"date":1,"utc":true},{"year":2012,"month":12,"date":1,"utc":true},{"year":2013,"month":2,"date":1,"utc":true},{"year":2013,"month":4,"date":1,"utc":true},{"year":2013,"month":6,"date":1,"utc":true},{"year":2013,"month":8,"date":1,"utc":true},{"year":2013,"month":10,"date":1,"utc":true},{"year":2013,"month":12,"date":1,"utc":true},{"year":2014,"month":2,"date":1,"utc":true},{"year":2014,"month":4,"date":1,"utc":true},{"year":2014,"month":6,"date":1,"utc":true},{"year":2014,"month":8,"date":1,"utc":true},{"year":2014,"month":10,"date":1,"utc":true},{"year":2014,"month":12,"date":1,"utc":true},{"year":2015,"month":2,"date":1,"utc":true},{"year":2015,"month":4,"date":1,"utc":true},{"year":2015,"month":6,"date":1,"utc":true},{"year":2015,"month":8,"date":1,"utc":true},{"year":2015,"month":10,"date":1,"utc":true},{"year":2015,"month":12,"date":1,"utc":true},{"year":2016,"month":2,"date":1,"utc":true},{"year":2016,"month":4,"date":1,"utc":true},{"year":2016,"month":6,"date":1,"utc":true},{"year":2016,"month":8,"date":1,"utc":true},{"year":2016,"month":10,"date":1,"utc":true},{"year":2016,"month":12,"date":1,"utc":true},{"year":2017,"month":2,"date":1,"utc":true},{"year":2017,"month":4,"date":1,"utc":true},{"year":2017,"month":6,"date":1,"utc":true},{"year":2017,"month":8,"date":1,"utc":true},{"year":2017,"month":10,"date":1,"utc":true},{"year":2017,"month":12,"date":1,"utc":true}]}},
"y":{"field":"v","type":"quantitative","scale":{"domain":[0,60]},
"axis":{"values":[0,10,20,30,40,50,60],"title":"€/MWh","titleAngle":0,"titleAlign":"left","titleBaseline":"middle","titleX":-58,"titleY":-21,"titleFontSize":15,"titleFontWeight":"bold","titleFont":"Liberation Sans","titleColor":"#262626","labelFontSize":12,"labelFont":"Liberation Sans","labelColor":"#595959","labelPadding":12,"tickSize":0,"grid":true,"gridColor":"#d9d9d9","domainColor":"#595959"}}
},
"layer":[
{"data":{"name":"hh"},"mark":{"type":"line","strokeWidth":2.75,"strokeJoin":"round"},
"encoding":{"color":{"datum":"Henry Hub (Platt's)","type":"nominal","scale":{"domain":["NBP (Platt's)","Henry Hub (Platt's)"],"range":["#4a7ebb","#bfbfbf"]},
"legend":{"orient":"none","legendX":245,"legendY":516,"direction":"horizontal","title":null,"labelFontSize":14.5,"labelFont":"Liberation Sans","labelColor":"#595959","labelLimit":300,"symbolType":"stroke","symbolSize":900,"symbolStrokeWidth":3,"columnPadding":19,"labelOffset":2}}}},
{"data":{"name":"nbp"},"mark":{"type":"line","strokeWidth":2.75,"strokeJoin":"round"},
"encoding":{"color":{"datum":"NBP (Platt's)","type":"nominal"}}},
{"data":{"name":"lng"},"mark":{"type":"point","filled":true,"size":30,"opacity":1,"color":"#ff0000","stroke":"#c00000","strokeWidth":0.5},
"encoding":{"shape":{"datum":"LNG Asia (varias fuentes)","type":"nominal","scale":{"range":["circle"]},
"legend":{"orient":"none","legendX":576,"legendY":523,"direction":"horizontal","title":null,"labelFontSize":14.5,"labelFont":"Liberation Sans","labelColor":"#595959","labelLimit":300,"symbolSize":30,"symbolFillColor":"#ff0000","symbolStrokeColor":"#c00000","symbolStrokeWidth":0.5,"symbolOpacity":1,"labelOffset":13}}}}
]
}
